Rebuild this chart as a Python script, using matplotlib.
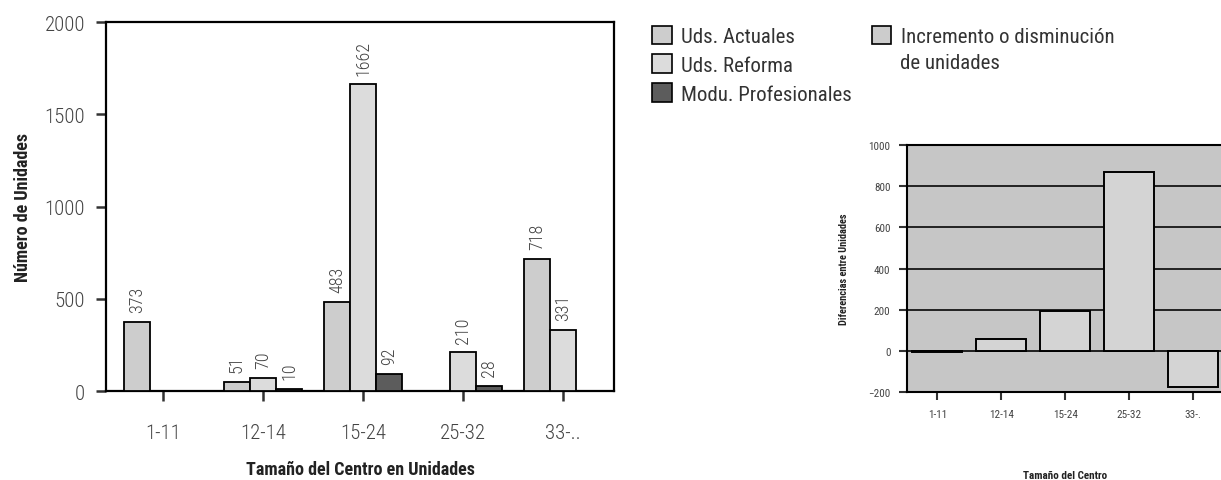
import numpy as np
import matplotlib
matplotlib.use("Agg")
import matplotlib.pyplot as plt
from matplotlib.patches import Patch

# datos
categorias = ["1-11", "12-14", "15-24", "25-32", "33-.."]
uds_actuales = [373, 51, 483, 0, 718]
uds_reforma = [0, 70, 1662, 210, 331]
modu_profesionales = [0, 10, 92, 28, 0]

cat_dif = ["1-11", "12-14", "15-24", "25-32", "33-."]
diferencias = [-8, 59, 195, 870, -175]

series = ["Uds. Actuales", "Uds. Reforma", "Modu. Profesionales"]
colores = ["#cdcdcd", "#dcdcdc", "#5c5c5c"]

plt.rcParams["font.family"] = ["Roboto Condensed", "Liberation Sans", "DejaVu Sans"]

fig = plt.figure(figsize=(12.21, 4.81), dpi=100)

# ── gráfico izquierdo ──
ax = fig.add_axes([0.0868, 0.185, 0.4162, 0.767])
x = np.arange(len(categorias))
w = 0.26
for k, (vals, col) in enumerate(zip([uds_actuales, uds_reforma, modu_profesionales], colores)):
    pos = x + (k - 1) * w
    ax.bar(pos, vals, width=w, color=col, edgecolor="black", linewidth=1.3, zorder=3)
    for p, v in zip(pos, vals):
        if v > 0:
            ax.annotate(str(v), (p, v), xytext=(0, 7), textcoords="offset points",
                        rotation=90, ha="center", va="bottom", fontsize=13,
                        fontweight="light", color="#444444")

ax.set_xlim(-0.57, 4.51)
ax.set_ylim(0, 2000)
ax.set_yticks([0, 500, 1000, 1500, 2000])
ax.set_xticks(x)
ax.set_xticklabels(categorias)
ax.tick_params(axis="both", labelsize=15, colors="#333333", length=7, width=1.8,
               direction="out", pad=16)
ax.tick_params(axis="both", labelcolor="#444444")
ax.tick_params(axis="y", pad=8)
plt.setp(ax.get_xticklabels() + ax.get_yticklabels(), fontweight="light")
for s in ax.spines.values():
    s.set_linewidth(1.6)
ax.set_ylabel("Número de Unidades", fontsize=13, fontweight="bold", color="#222222", labelpad=9)
ax.set_xlabel("Tamaño del Centro en Unidades", fontsize=13, fontweight="bold", color="#222222",
              labelpad=13)

# leyenda
handles = [Patch(facecolor=c, edgecolor="black", linewidth=1.2) for c in colores]
leg1 = fig.legend(handles, series, loc="upper left", bbox_to_anchor=(0.527, 0.962), frameon=False,
                  fontsize=15, handlelength=0.95, handleheight=1.0, labelspacing=0.4,
                  handletextpad=0.45, borderaxespad=0)
leg2 = fig.legend([Patch(facecolor="#cccccc", edgecolor="black", linewidth=1.2)],
                  ["Incremento o disminución"], loc="upper left",
                  bbox_to_anchor=(0.707, 0.962), frameon=False, fontsize=15, handlelength=0.95,
                  handleheight=1.0, handletextpad=0.45, borderaxespad=0)
for t in leg1.get_texts() + leg2.get_texts():
    t.set_color("#333333")
fig.text(0.7375, 0.867, "de unidades", fontsize=15, color="#333333", va="center", ha="left")

# ── gráfico derecho ──
ax2 = fig.add_axes([0.743, 0.183, 0.259, 0.513])
x2 = np.arange(len(cat_dif))
ax2.set_facecolor("#c6c6c6")
ax2.bar(x2, diferencias, width=0.78, color="#d4d4d4", edgecolor="black", linewidth=1.4, zorder=3)
ax2.set_xlim(-0.47, 4.47)
ax2.set_ylim(-200, 1000)
ax2.set_yticks(np.arange(-200, 1001, 200))
ax2.set_xticks(x2)
ax2.set_xticklabels(cat_dif)
ax2.grid(axis="y", color="#222222", linewidth=1.4, zorder=1)
ax2.set_axisbelow(True)
ax2.axhline(0, color="#222222", linewidth=1.4, zorder=2)
ax2.tick_params(axis="both", labelsize=8, colors="#333333", length=6, width=1.5, pad=6)
ax2.tick_params(axis="both", labelcolor="#444444")
for s in ax2.spines.values():
    s.set_linewidth(1.5)
ax2.set_ylabel("Diferencias entre Unidades", fontsize=7.5, fontweight="bold", color="#222222",
               labelpad=14)
ax2.set_xlabel("Tamaño del Centro", fontsize=8, fontweight="bold", color="#222222", labelpad=37)

fig.savefig("out.png", dpi=100)
